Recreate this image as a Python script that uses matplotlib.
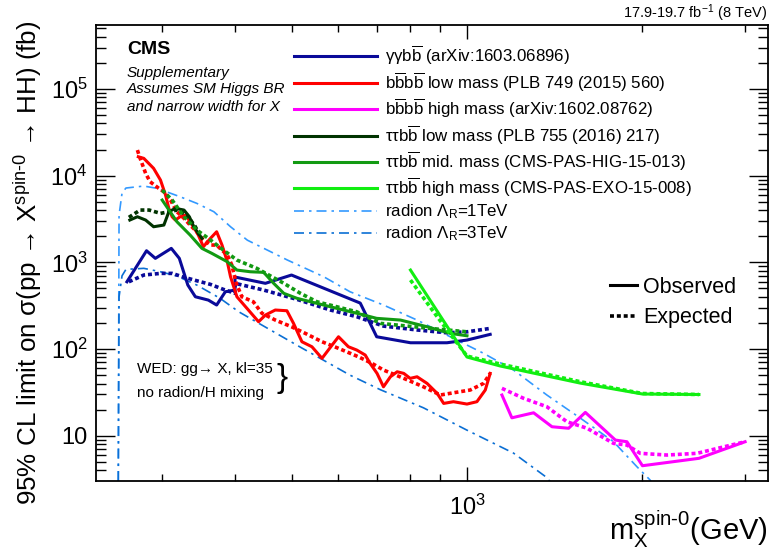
import matplotlib
matplotlib.use("Agg")
import matplotlib.pyplot as plt
from matplotlib.lines import Line2D
from matplotlib.ticker import FixedLocator, FixedFormatter, NullFormatter

plt.rcParams["font.family"] = ["Liberation Sans", "DejaVu Sans"]
plt.rcParams["mathtext.fontset"] = "custom"
plt.rcParams["mathtext.rm"] = "Liberation Sans"
plt.rcParams["mathtext.it"] = "Liberation Sans:italic"
plt.rcParams["mathtext.bf"] = "Liberation Sans:bold"
plt.rcParams["mathtext.sf"] = "Liberation Sans"

# ---- data (mass in GeV, limit in fb) ----
ggbb_obs_m = [261, 282, 292, 311, 321, 332, 342, 360, 372, 385, 400, 400, 451, 500, 656, 700, 800, 924, 1000, 1096]
ggbb_obs_s = [597, 1361, 1112, 1450, 1112, 547, 401, 367, 322, 458, 479, 677, 573, 714, 339, 138.6, 118.2, 118.2, 127, 147.7]
ggbb_exp_m = [263, 279, 298, 312, 325, 344, 363, 382, 400, 400, 448, 511, 583, 647, 719, 821, 924, 1000, 1096]
ggbb_exp_s = [597, 714, 746, 746, 682, 613, 557, 488, 439, 573, 479, 374, 282, 236, 184, 166, 154, 158, 173]

bb4_low_obs_m = [273, 279, 290, 298, 304, 308, 312, 316, 322, 329, 338, 346, 353, 363, 372, 380, 388, 393, 403, 439,
                 451, 469, 491, 504, 521, 542, 564, 587, 602, 626, 647, 669, 682, 701, 719, 739, 759, 779, 799, 821,
                 854, 889, 912, 948, 1000, 1040, 1075, 1096]
bb4_low_obs_s = [16520, 15830, 12140, 8895, 5975, 4196, 3357, 3076, 3357, 3512, 2692, 2065, 1514, 1891, 2254, 1583, 1016, 682, 401, 206.5,
                 246.7, 282, 276.6, 197.9, 121.4, 106.3, 78.1, 111.2, 138.6, 106.3, 97.4, 85.3, 68.4, 52.4, 36.7, 47.9, 54.7, 52.4, 45.9, 47.9,
                 40.2, 30.8, 23.6, 24.7, 23.2, 24.7, 33.7, 52.4]
bb4_low_exp_m = [272, 275, 281, 286, 296, 302, 310, 318, 327, 335, 344, 351, 363, 372, 377, 388, 395, 402, 411, 430,
                 445, 469, 500, 528, 564, 602, 651, 687, 719, 779, 842, 900, 948, 1013, 1068, 1096]
bb4_low_exp_s = [19730, 15830, 10630, 8510, 7140, 6520, 5230, 3832, 3218, 2692, 2254, 1891, 1583, 1583, 1450, 1214, 931, 573, 401, 351,
                 258, 216, 180.8, 151.7, 121.4, 101.9, 81.5, 68.4, 57.3, 45.9, 36.7, 29.5, 31.3, 33.7, 40.2, 52.4]

bb4_high_obs_m = [1148, 1194, 1301, 1399, 1494, 1596, 1797, 1881, 2000, 2500, 3000]
bb4_high_obs_s = [29.5, 16.1, 18.4, 12.7, 12.2, 18.6, 8.92, 8.53, 4.51, 5.49, 8.53]
bb4_high_exp_m = [1148, 1251, 1371, 1484, 1607, 1784, 1881, 1983, 2203, 2481, 3000]
bb4_high_exp_s = [35.2, 27.0, 21.6, 14.5, 12.2, 8.17, 7.81, 6.27, 5.99, 6.27, 8.53]

tt_low_obs_m = [264, 272, 281, 290, 302, 308, 316, 327, 334, 340, 346, 351]
tt_low_obs_s = [3076, 3357, 3076, 2574, 2692, 3832, 4196, 4011, 3357, 2574, 2160, 1891]
tt_low_exp_m = [263, 275, 285, 298, 308, 318, 331, 342, 349]
tt_low_exp_s = [3304, 4011, 4011, 3673, 3832, 4011, 3512, 2574, 1973]

tt_mid_obs_m = [300, 318, 335, 351, 365, 388, 403, 425, 448, 466, 485, 511, 553, 598, 656, 700, 769, 854, 936, 1000]
tt_mid_obs_s = [5230, 2939, 2065, 1450, 1270, 1016, 815, 779, 767, 573, 439, 384.6, 336.6, 294.6, 253, 226, 216, 180.8, 151.7, 142.3]
tt_mid_exp_m = [300, 312, 327, 344, 360, 382, 403, 436, 485, 518, 553, 598, 647, 710, 865, 1000]
tt_mid_exp_s = [6823, 5230, 3357, 2358, 1891, 1387, 1063, 852, 573, 439, 351, 307.5, 269, 197.9, 173, 158]

tt_high_obs_m = [800, 1000, 1141, 1564, 2000, 2500]
tt_high_obs_s = [815, 80.9, 63.7, 40.5, 30.3, 29.9]
tt_high_exp_m = [800, 889, 1000, 1141, 1564, 2000, 2500]
tt_high_exp_s = [625, 236, 83, 67.1, 42, 30.7, 29.9]

radion1_m = [252, 253, 256, 260, 279, 294, 322, 344, 368, 393, 420, 492, 568, 630, 719, 821, 936, 1068,
             1202, 1371, 1564, 1784, 1957, 2062, 2120]
radion1_s = [0.5, 3500, 6300, 7200, 7586, 7140, 5710, 4790, 3832, 2574, 1802, 1063, 682, 458, 322, 216, 138.6, 89.2,
             57.3, 29.5, 16.0, 8.53, 4.39, 3.08, 2.2]
radion3_m = [252, 253, 256, 260, 279, 298, 318, 344, 377, 406, 518, 630, 710, 842, 1000, 1202, 1362, 1400]
radion3_s = [0.5, 400, 700, 830, 853, 779, 695, 547, 385, 269, 105, 50, 34, 21, 11.6, 6.3, 3.4, 2.8]

x_ticks = [1000]
x_tick_labels = ["$10^{3}$"]
x_minor = [300, 400, 500, 600, 700, 800, 900, 2000, 3000]
y_ticks = [10, 100, 1000, 10000, 100000]
y_tick_labels = ["10", "$10^{2}$", "$10^{3}$", "$10^{4}$", "$10^{5}$"]
y_minor = [m * 10 ** e for e in range(0, 6) for m in range(2, 10)]

C_GG = "#0a0a99"
C_BBL = "#ff0000"
C_BBH = "#ff00ff"
C_TTL = "#003300"
C_TTM = "#129a12"
C_TTH = "#11ee11"
C_R1 = "#3399ff"
C_R3 = "#0b6fd4"

LW = 2.2
EXP = (0, (1.1, 0.8))
DASHDOT = (0, (6, 3, 1.5, 3))

fig = plt.figure(figsize=(7.7, 5.49), dpi=100)
ax = fig.add_axes([0.1247, 0.1244, 0.8723, 0.8301])
ax.set_xscale("log")
ax.set_yscale("log")

ax.plot(radion1_m, radion1_s, color=C_R1, lw=1.2, ls=DASHDOT)
ax.plot(radion3_m, radion3_s, color=C_R3, lw=1.2, ls=DASHDOT)

series = [
    (ggbb_obs_m, ggbb_obs_s, ggbb_exp_m, ggbb_exp_s, C_GG),
    (bb4_low_obs_m, bb4_low_obs_s, bb4_low_exp_m, bb4_low_exp_s, C_BBL),
    (bb4_high_obs_m, bb4_high_obs_s, bb4_high_exp_m, bb4_high_exp_s, C_BBH),
    (tt_low_obs_m, tt_low_obs_s, tt_low_exp_m, tt_low_exp_s, C_TTL),
    (tt_mid_obs_m, tt_mid_obs_s, tt_mid_exp_m, tt_mid_exp_s, C_TTM),
    (tt_high_obs_m, tt_high_obs_s, tt_high_exp_m, tt_high_exp_s, C_TTH),
]
for om, os_, em, es, c in series:
    ax.plot(em, es, color=c, lw=LW + 0.4, ls=EXP)
    ax.plot(om, os_, color=c, lw=LW)

ax.set_xlim(231, 3280)
ax.set_ylim(3.03, 5.47e5)

ax.xaxis.set_major_locator(FixedLocator(x_ticks))
ax.xaxis.set_major_formatter(FixedFormatter(x_tick_labels))
ax.xaxis.set_minor_locator(FixedLocator(x_minor))
ax.xaxis.set_minor_formatter(NullFormatter())
ax.yaxis.set_major_locator(FixedLocator(y_ticks))
ax.yaxis.set_major_formatter(FixedFormatter(y_tick_labels))
ax.yaxis.set_minor_locator(FixedLocator(y_minor))
ax.yaxis.set_minor_formatter(NullFormatter())

ax.tick_params(which="both", direction="in", top=True, right=True, width=1, labelsize=17)
ax.tick_params(axis="y", which="major", length=14, pad=6)
ax.tick_params(axis="y", which="minor", length=7)
ax.tick_params(axis="x", which="major", length=10, pad=10)
ax.tick_params(axis="x", which="minor", length=5)
for s in ax.spines.values():
    s.set_linewidth(1.3)

ax.set_ylabel(r"95% CL limit on σ(pp → X$^{\mathrm{spin\text{-}0}}$ → HH) (fb)", fontsize=18.7, loc="top")
ax.yaxis.set_label_coords(-0.077, 1.01)
ax.set_xlabel(r"m$_{\mathrm{X}}^{\mathrm{spin\text{-}0}}$(GeV)", fontsize=21, loc="right", va="bottom")
ax.xaxis.set_label_coords(1.0, -0.153)

bb = r"b$\overline{\mathrm{b}}$"
labels = [
    "γγ" + bb + " (arXiv:1603.06896)",
    bb + bb + " low mass (PLB 749 (2015) 560)",
    bb + bb + " high mass (arXiv:1602.08762)",
    "ττ" + bb + " low mass (PLB 755 (2016) 217)",
    "ττ" + bb + " mid. mass (CMS-PAS-HIG-15-013)",
    "ττ" + bb + " high mass (CMS-PAS-EXO-15-008)",
    r"radion $\Lambda_{\mathrm{R}}$=1TeV",
    r"radion $\Lambda_{\mathrm{R}}$=3TeV",
]
handles = [Line2D([], [], color=c, lw=LW) for c in (C_GG, C_BBL, C_BBH, C_TTL, C_TTM, C_TTH)]
handles += [Line2D([], [], color=C_R1, lw=1.2, ls=DASHDOT), Line2D([], [], color=C_R3, lw=1.2, ls=DASHDOT)]
leg1 = ax.legend(handles, labels, loc="upper left", bbox_to_anchor=(0.2948, 0.958), frameon=False,
                 fontsize=12.2, handlelength=4.9, handletextpad=0.45, labelspacing=0.19,
                 borderpad=0, borderaxespad=0)
ax.add_artist(leg1)

oe = [Line2D([], [], color="black", lw=LW), Line2D([], [], color="black", lw=LW + 0.4, ls=EXP)]
ax.legend(oe, ["Observed", "Expected"], loc="upper left", bbox_to_anchor=(0.765, 0.447), frameon=False,
          fontsize=15.5, handlelength=1.26, handletextpad=0.28, labelspacing=0.43,
          borderpad=0, borderaxespad=0)

fig.text(0.165, 0.909, "CMS", fontsize=14, fontweight="bold", va="center")
fig.text(0.165, 0.867, "Supplementary", fontsize=11, style="italic", va="center")
fig.text(0.165, 0.837, "Assumes SM Higgs BR", fontsize=11, style="italic", va="center")
fig.text(0.165, 0.805, "and narrow width for X", fontsize=11, style="italic", va="center")
fig.text(0.997, 0.976, r"17.9-19.7 fb$^{-1}$ (8 TeV)", fontsize=10.5, ha="right", va="center")

fig.text(0.1775, 0.328, "WED: gg→ X, kl=35", fontsize=11, va="center")
fig.text(0.1775, 0.285, "no radion/H mixing", fontsize=11, va="center")
fig.text(0.366, 0.311, "}", fontsize=24, ha="center", va="center")

fig.savefig("out.png", dpi=100)
